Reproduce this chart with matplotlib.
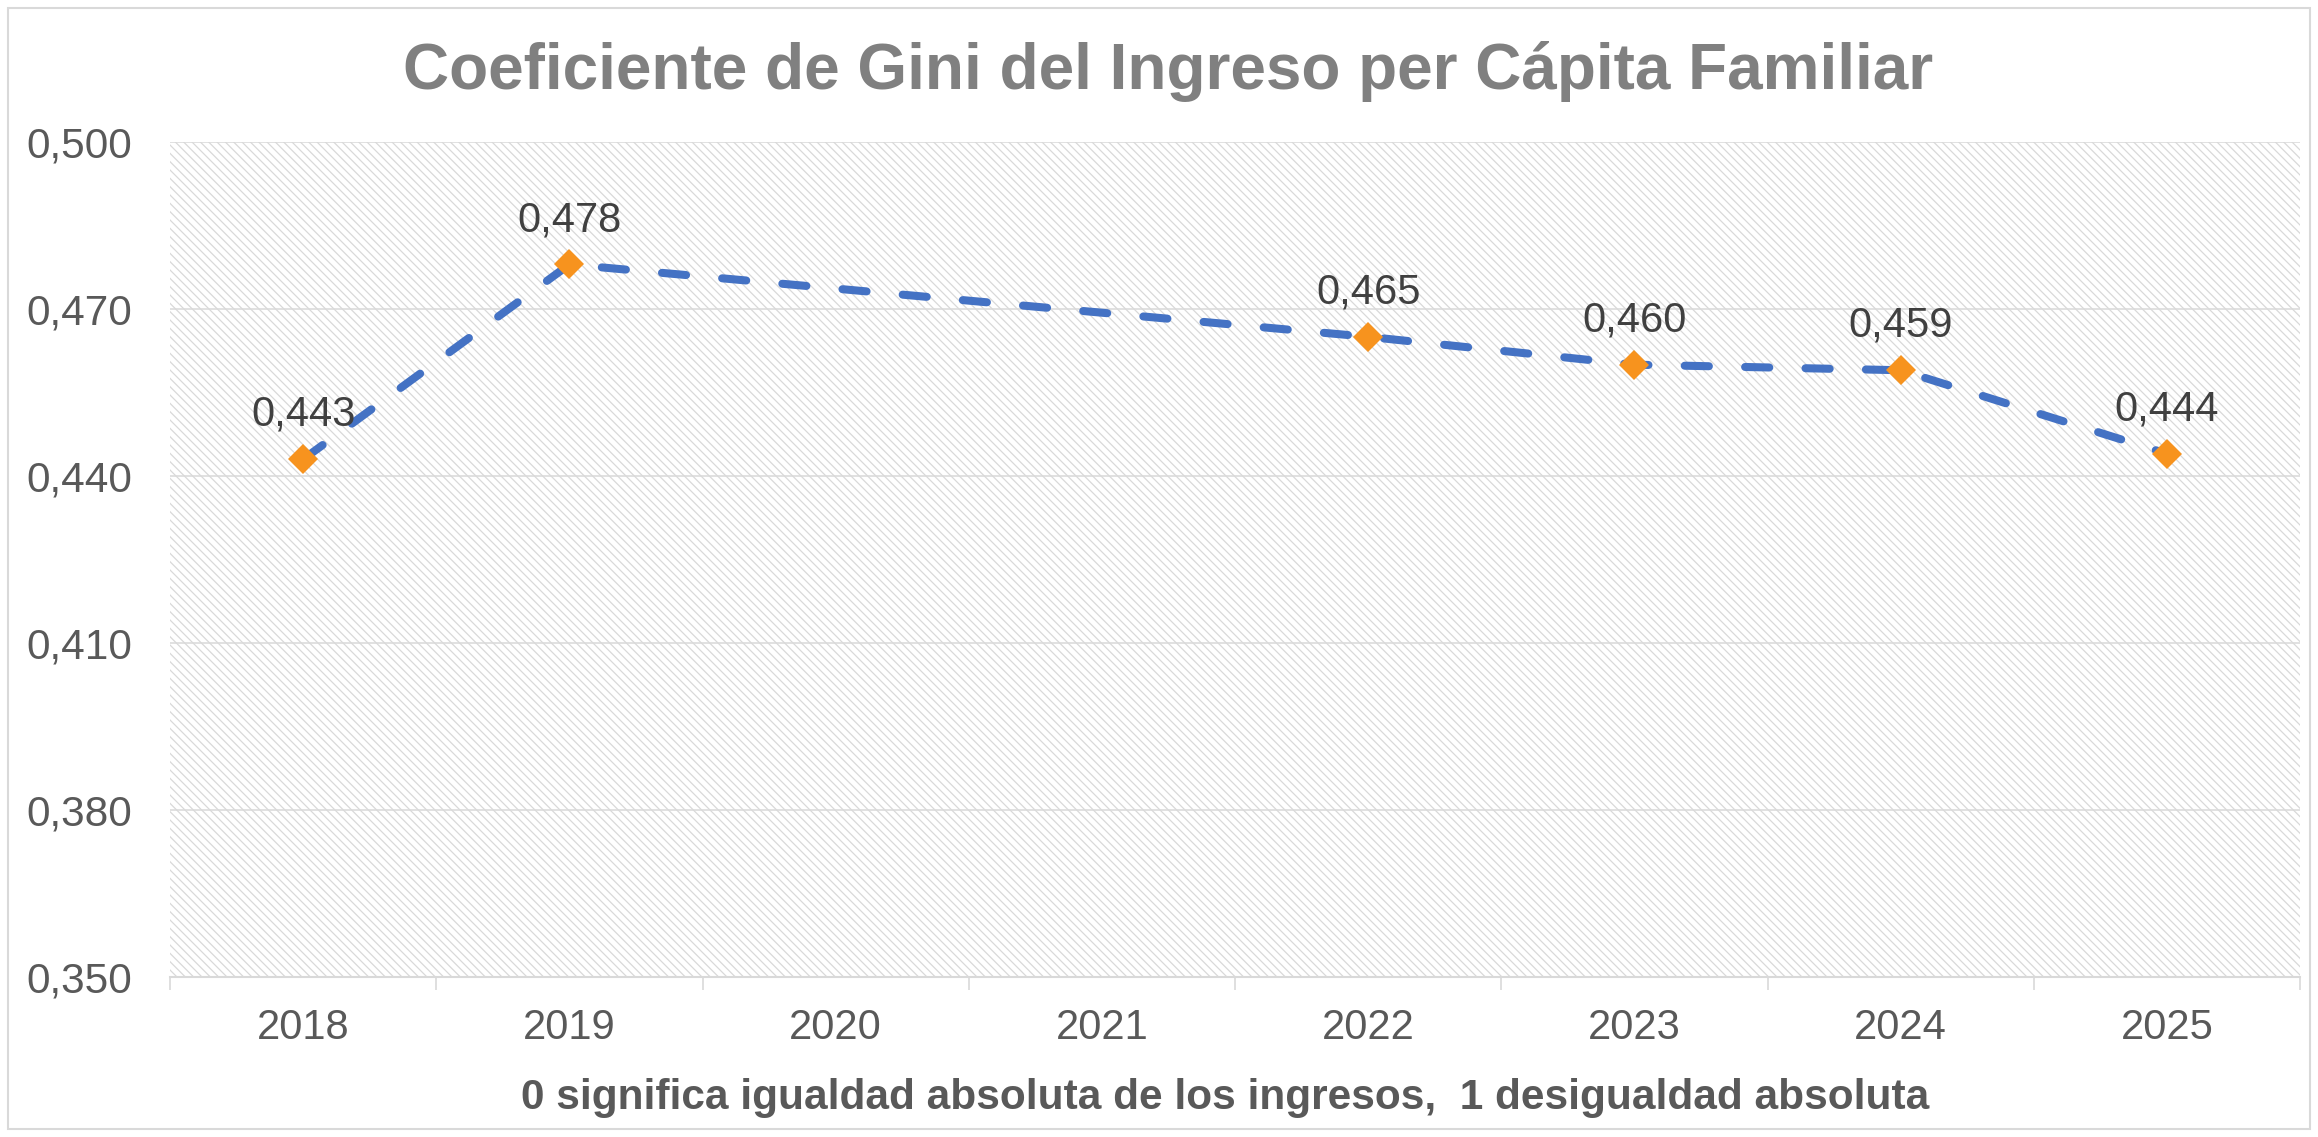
import numpy as np
import matplotlib
matplotlib.use("Agg")
import matplotlib.pyplot as plt
from matplotlib.patches import Rectangle
from matplotlib.ticker import FixedLocator, FuncFormatter

years = ["2018", "2019", "2020", "2021", "2022", "2023", "2024", "2025"]
gini = [0.443, 0.478, np.nan, np.nan, 0.465, 0.460, 0.459, 0.444]
y_ticks = [0.350, 0.380, 0.410, 0.440, 0.470, 0.500]

title = "Coeficiente de Gini del Ingreso per Cápita Familiar"
xlabel = "0 significa igualdad absoluta de los ingresos,  1 desigualdad absoluta"

fam = ["Liberation Sans", "DejaVu Sans"]


def fmt(v):
    return f"{v:.3f}".replace(".", ",")


def main():
    plt.rcParams["font.family"] = fam
    plt.rcParams["hatch.linewidth"] = 0.9
    fig = plt.figure(figsize=(23.18, 11.37), dpi=100)
    fig.patches.append(Rectangle((8 / 2318, 8 / 1137), 1 - 16 / 2318, 1 - 16 / 1137,
                                 transform=fig.transFigure, fill=False,
                                 edgecolor="#d9d9d9", lw=1.5))
    ax = fig.add_axes([170 / 2318, 1 - 977 / 1137, 2130 / 2318, 835 / 1137])
    ax.set_facecolor("white")
    ax.add_patch(Rectangle((0, 0), 1, 1, transform=ax.transAxes, facecolor="white",
                           edgecolor="#d9d9d9", hatch="\\\\\\\\", lw=0, zorder=0))

    x = np.arange(len(years))
    y = np.array(gini)
    ok = ~np.isnan(y)
    ax.plot(x[ok], y[ok], color="#4472C4", lw=5.8, dashes=(3, 4.5),
            dash_capstyle="round", zorder=3)
    ax.plot(x[ok], y[ok], ls="none", marker="D", ms=15, color="#F7931E",
            markeredgewidth=0, zorder=4)
    for xi, yi in zip(x[ok], y[ok]):
        ax.annotate(fmt(yi), (xi, yi), xytext=(0, 32), textcoords="offset points",
                    ha="center", va="center", fontsize=30, color="#404040", zorder=5)

    ax.set_xlim(-0.5, len(years) - 0.5)
    ax.set_ylim(0.350, 0.500)
    ax.set_yticks(y_ticks)
    ax.yaxis.set_major_formatter(FuncFormatter(lambda v, p: fmt(v)))
    ax.set_xticks(x)
    ax.set_xticklabels(years)
    ax.xaxis.set_minor_locator(FixedLocator(np.arange(-0.5, len(years), 1.0)))

    ax.tick_params(axis="y", length=0, pad=27, labelsize=30.5, labelcolor="#595959")
    ax.tick_params(axis="x", which="major", length=0, pad=22, labelsize=30,
                   labelcolor="#595959")
    ax.tick_params(axis="x", which="minor", length=9.5, width=1.2, color="#d9d9d9")

    ax.grid(axis="y", color="#d9d9d9", lw=1.1, zorder=1)
    ax.set_axisbelow(True)
    for s in ["top", "right", "left"]:
        ax.spines[s].set_visible(False)
    ax.spines["bottom"].set_color("#d9d9d9")
    ax.spines["bottom"].set_linewidth(1.5)

    fig.text(1225 / 2318, 1 - 1098 / 1137, xlabel, ha="center", va="center",
             fontsize=30.5, fontweight="bold", color="#595959")
    fig.text(1168 / 2318, 1 - 72 / 1137, title, ha="center", va="center",
             fontsize=46, fontweight="bold", color="#808080")

    fig.savefig("out.png", dpi=100)


if __name__ == "__main__":
    main()
